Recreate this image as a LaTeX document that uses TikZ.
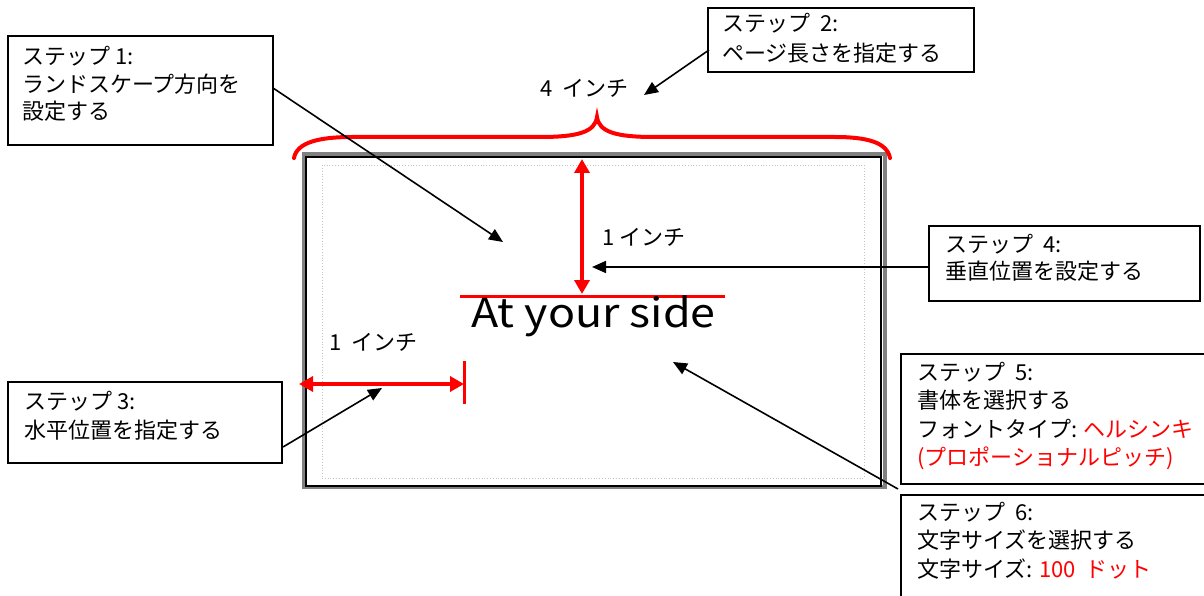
\documentclass[tikz,border=0pt]{standalone}
\usepackage{fontspec}
\setmainfont{Noto Sans CJK JP}
\usetikzlibrary{arrows.meta,calc}
\definecolor{myred}{RGB}{255,0,0}
\definecolor{pagegray}{RGB}{128,128,128}
\definecolor{dotgray}{RGB}{195,195,195}
\begin{document}
\begin{tikzpicture}[x=1pt,y=-1pt,
  stepbox/.style={draw=black, line width=1.5pt, rectangle, inner sep=0pt, outer sep=0pt, anchor=north west},
  txt/.style={font=\fontsize{22pt}{28.5pt}\selectfont, align=left, inner sep=0pt, anchor=base west},
  lbl/.style={font=\fontsize{22pt}{28pt}\selectfont, inner sep=0pt, anchor=base west},
  arr/.style={draw=black, line width=1.6pt, -{Triangle[length=14pt,width=12pt]}},
  redarr/.style={draw=myred, line width=4pt, {Triangle[length=14pt,width=15pt]}-{Triangle[length=14pt,width=15pt]}},
  redline/.style={draw=myred, line width=3pt}
]
\useasboundingbox (0,0) rectangle (1204,596);

% page
\node[draw=pagegray, line width=4pt, minimum width=581pt, minimum height=333pt, inner sep=0pt, outer sep=0pt, anchor=north west] (page) at (304,154) {};
\node[draw=black, line width=1.2pt, minimum width=575pt, minimum height=329pt, inner sep=0pt, outer sep=0pt, anchor=north west] (pageline) at (306,157) {};
\node[draw=dotgray, dotted, line width=0.8pt, minimum width=542pt, minimum height=313pt, inner sep=0pt, outer sep=0pt, anchor=north west] (margin) at (322,165) {};

% brace
\draw[myred, line width=4pt, line cap=round]
  (294,158) .. controls (297,142) and (320,137) .. (352,137) -- (540,137)
  .. controls (578,137) and (595,132) .. (597,117)
  .. controls (599,132) and (616,137) .. (654,137) -- (835,137)
  .. controls (866,137) and (887,142) .. (890,158);
\node[lbl] (w4) at (540,97) {4\hspace{0.45em}インチ};

% vertical measure
\coordinate (vtop) at (582,159);
\coordinate (vbot) at (582,294);
\draw[redarr] (vtop) -- (vbot);
\coordinate (hl1) at (460,296);
\coordinate (hl2) at (725,296);
\draw[redline] (hl1) -- (hl2);
\node[lbl] (h1) at (602,245) {1 インチ};

% title text
\node[inner sep=0pt, anchor=base, font=\fontsize{40pt}{40pt}\selectfont] (title) at (593.5,327) {\scalebox{1.12}[1]{At your side}};

% horizontal measure
\coordinate (hleft) at (299,384);
\coordinate (hright) at (464,384);
\draw[redarr] (hleft) -- (hright);
\coordinate (bar1) at (464,361);
\coordinate (bar2) at (464,404);
\draw[redline] (bar1) -- (bar2);
\node[lbl] (h2) at (329,350) {1\hspace{0.45em}インチ};

% step boxes (text nodes anchored at the baseline of their last line)
\node[stepbox, minimum width=265pt, minimum height=109pt] (b1) at (8,36) {};
\node[txt, font=\fontsize{22pt}{27.5pt}\selectfont] (s1) at (22,120) {ステップ 1:\\ランドスケープ方向を\\設定する};

\node[stepbox, minimum width=266pt, minimum height=64pt] (b2) at (708,8) {};
\node[txt, font=\fontsize{22pt}{30pt}\selectfont] (s2) at (722,62) {ステップ\hspace{0.45em}2:\\ページ長さを指定する};

\node[stepbox, minimum width=274pt, minimum height=81pt] (b3) at (8,382) {};
\node[txt, font=\fontsize{22pt}{29pt}\selectfont] (s3) at (24,438) {ステップ 3:\\水平位置を指定する};

\node[stepbox, minimum width=271pt, minimum height=75pt] (b4) at (929,226) {};
\node[txt, font=\fontsize{22pt}{27pt}\selectfont] (s4) at (945,279) {ステップ\hspace{0.45em}4:\\垂直位置を設定する};

\node[stepbox, minimum width=320pt, minimum height=130pt] (b5) at (901,354) {};
\node[txt] (s5) at (917,465.5) {ステップ\hspace{0.45em}5:\\書体を選択する\\フォントタイプ:\hspace{0.3em}\textcolor{myred}{ヘルシンキ}\\\textcolor{myred}{(プロポーショナルピッチ)}};

\node[stepbox, minimum width=320pt, minimum height=130pt] (b6) at (901,495) {};
\node[txt] (s6) at (917,577) {ステップ\hspace{0.45em}6:\\文字サイズを選択する\\文字サイズ: \textcolor{myred}{100\hspace{0.45em}ドット}};

% connectors
\coordinate (t1) at (503,242);
\draw[arr] ($(b1.north east)+(0,52)$) -- (t1);
\coordinate (t2) at (644,95);
\draw[arr] ($(b2.south west)+(1,-22)$) -- (t2);
\coordinate (t3) at (382,388);
\draw[arr] ($(b3.south east)+(1,-16)$) -- (t3);
\coordinate (t4) at (592,267);
\draw[arr] ($(b4.south west)+(0,-34)$) -- (t4);
\coordinate (t5) at (673,362);
\draw[arr] ($(b5.south west)+(-3,5)$) -- (t5);
\end{tikzpicture}
\end{document}
